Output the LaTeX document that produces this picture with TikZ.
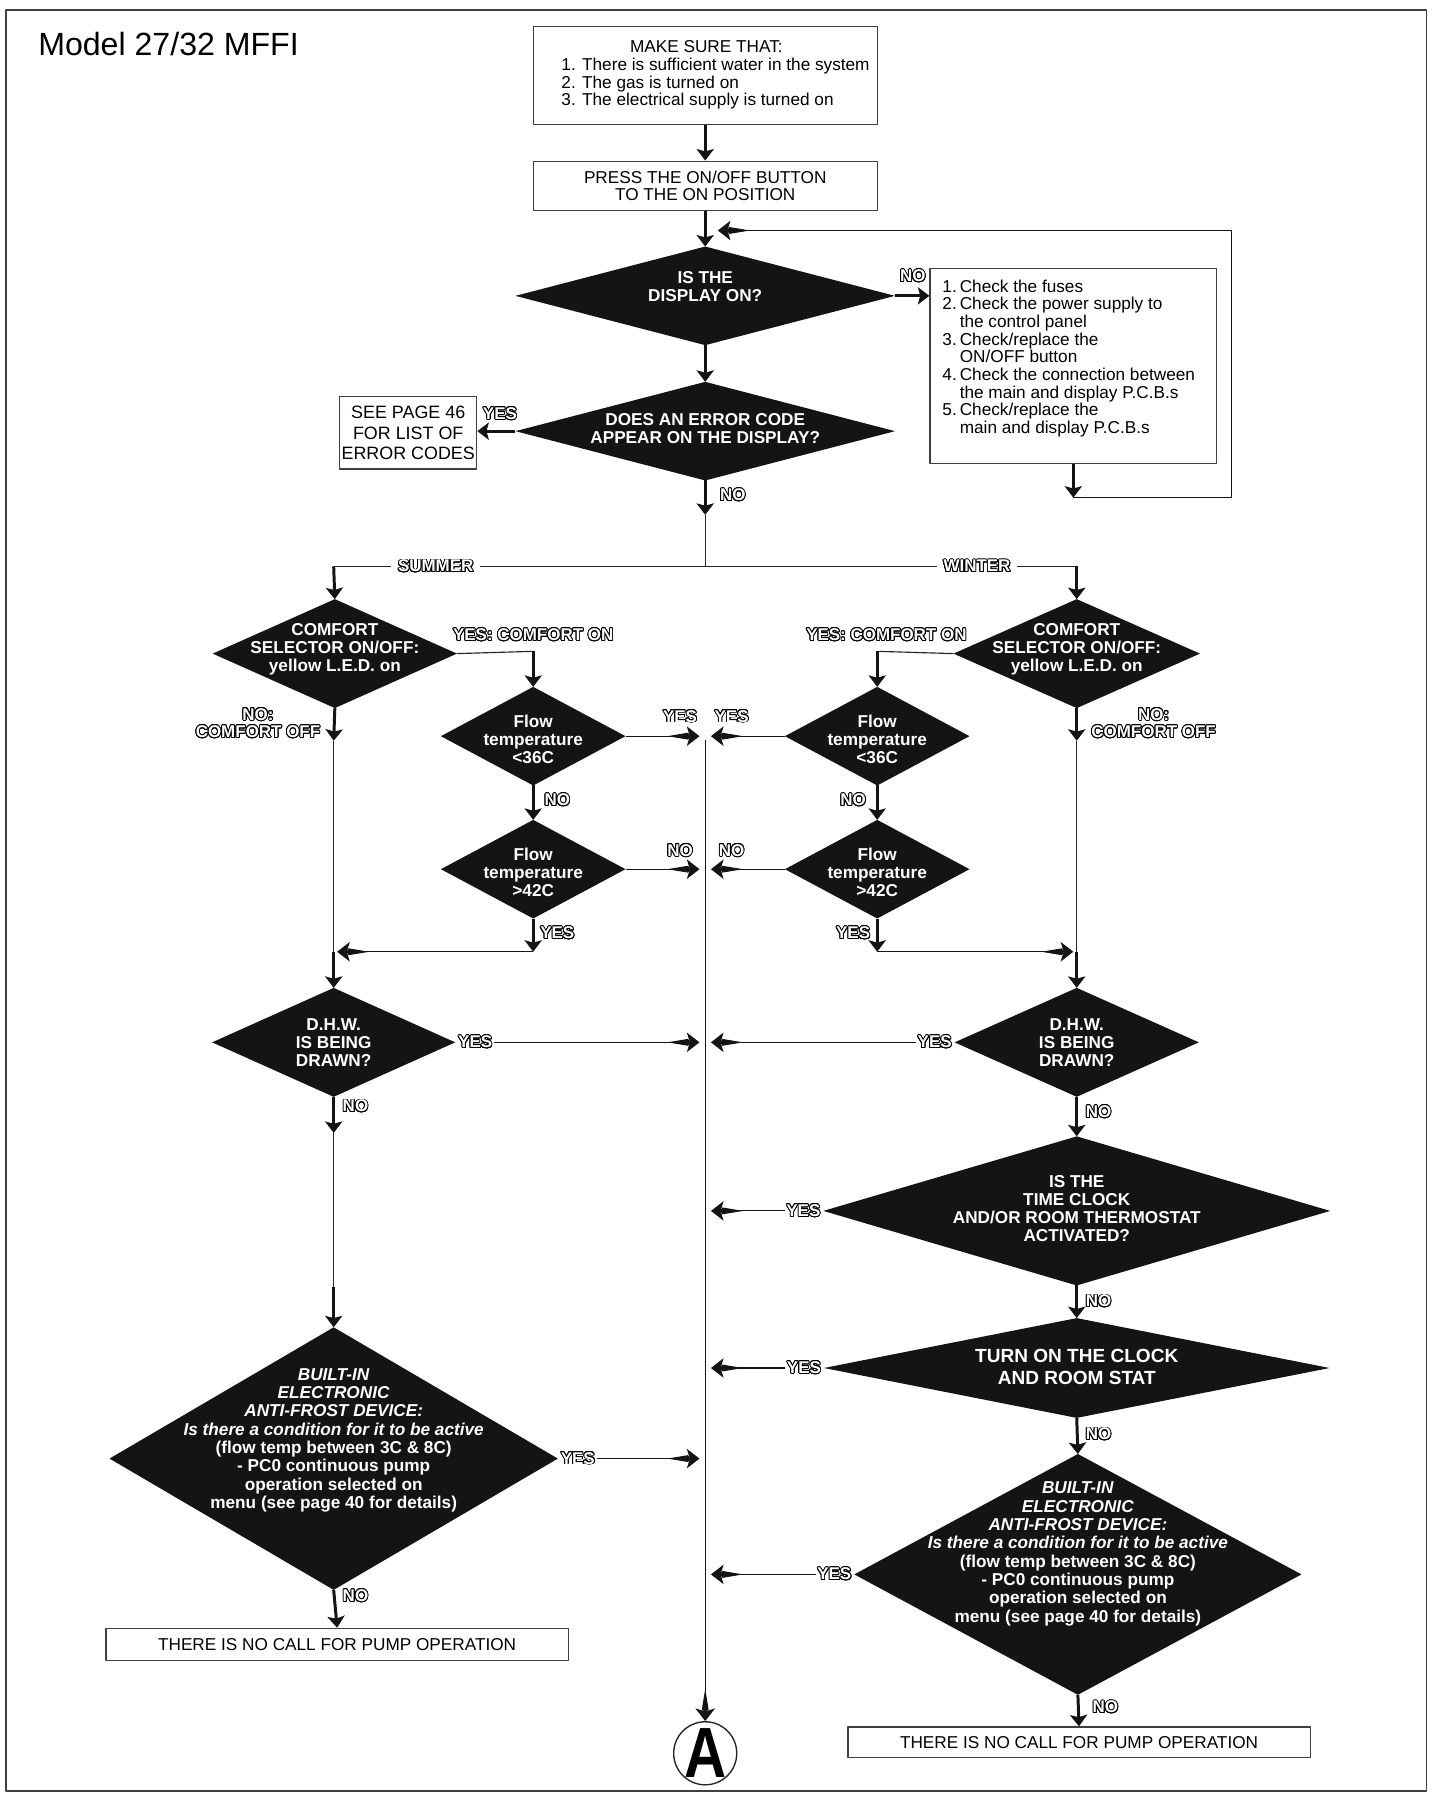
\documentclass[tikz,border=0pt]{standalone}
\usepackage{fontspec}
\setmainfont{Liberation Sans}
\newfontfamily\narrowfont{Liberation Sans}[FakeStretch=0.82]
\usepackage[copies]{contour}
\contourlength{0.38pt}
\contournumber{20}
\usetikzlibrary{arrows.meta,shapes.geometric,positioning}
\newcommand{\olbl}[1]{\contour{black}{#1}}
\tikzset{
  every picture/.style={line join=round},
  frame/.style={draw=black!75, line width=0.8pt},
  box/.style={rectangle, draw=black!75, line width=0.5pt, inner sep=2pt, align=center,
    font=\fontsize{7.5}{7.65}\selectfont},
  chktxt/.style={inner sep=0pt, font=\fontsize{7.5}{7.55}\selectfont},
  dia/.style 2 args={diamond, fill=black!92, draw=none, inner sep=0pt, outer sep=0pt,
    minimum width=#1*0.5pt, minimum height=#2*0.5pt},
  dtxt/.style={text=white, inner sep=0pt, align=center, font=\fontsize{7.5}{7.8}\selectfont\bfseries},
  lab/.style={text=white, inner sep=0.6pt, align=center, font=\fontsize{7.4}{7.6}\selectfont\bfseries},
  conn/.style={draw=black!85, line width=0.5pt},
  tarr/.style={draw=black!92, line width=1.3pt, -{Stealth[length=5pt,width=7.5pt,inset=1pt]}},
  larr/.style={draw=black!92, line width=0.5pt,
    -{Kite[length=10pt,width=3pt,inset=9pt,sep=-1.5pt]Stealth[length=5.5pt,width=8.5pt,inset=1.3pt]}},
}
\begin{document}
\begin{tikzpicture}[x=0.5pt, y=-0.5pt]
\useasboundingbox (0,0) rectangle (1249,1568);
\draw[frame] (5,9) rectangle (1244,1562);
\node[anchor=base west, inner sep=0pt, font=\fontsize{14}{16}\selectfont] (title) at (33,48) {Model 27/32 MFFI};

% top of the chart
\node[box, minimum width=150pt, minimum height=42.75pt] (b1) at (615,66)
  {\hspace*{9pt}\begin{tabular}{@{}l@{}}\multicolumn{1}{@{}c@{}}{\hspace*{-8pt}MAKE SURE THAT:}\\
   1. There is sufficient water in the system\\
   2. The gas is turned on\\
   3. The electrical supply is turned on\end{tabular}};
\node[box, minimum width=150pt, minimum height=21.5pt] (b2) at (615,162) {PRESS THE ON/OFF BUTTON\\TO THE ON POSITION};
\node[dia={331}{86}] (d1) at (615,258) {};
\node[dtxt] (d1t) at (615,250) {IS THE\\DISPLAY ON?};
\node[dia={331}{86}] (d2) at (615,376) {};
\node[dtxt] (d2t) at (615,374) {DOES AN ERROR CODE\\APPEAR ON THE DISPLAY?};
\node[box, minimum width=125pt, minimum height=85pt] (chk) at (936,319) {};
\node[chktxt, anchor=north west] (chkt) at ([xshift=5.5pt,yshift=-5pt]chk.north west)
  {\begin{tabular}{@{}l@{\hspace{1.3pt}}l@{}}
   1. & Check the fuses\\
   2. & Check the power supply to\\
      & the control panel\\
   3. & Check/replace the\\
      & ON/OFF button\\
   4. & Check the connection between\\
      & the main and display P.C.B.s\\
   5. & Check/replace the\\
      & main and display P.C.B.s\end{tabular}};
\node[box, minimum width=59.75pt, minimum height=31.5pt, inner sep=0pt, font=\fontsize{7.8}{9}\selectfont] (see) at (356,377.5) {SEE PAGE 46\\FOR LIST OF\\ERROR CODES};

% summer branch
\node[dia={213}{95}] (cL) at (292,570) {};
\node[dtxt] (cLt) at (292,566) {COMFORT\\SELECTOR ON/OFF:\\yellow L.E.D. on};
\node[dia={161}{86}] (fL1) at (465,642) {};
\node[dtxt] (fL1t) at (465,645) {Flow\\temperature\\<36C};
\node[dia={161}{86}] (fL2) at (465,758) {};
\node[dtxt] (fL2t) at (465,761) {Flow\\temperature\\>42C};
\node[dia={212}{95}] (dhwL) at (291,909) {};
\node[dtxt] (dhwLt) at (291,909) {D.H.W.\\IS BEING\\DRAWN?};
\node[dia={391}{229}] (afL) at (291,1272) {};
\node[dtxt, font=\fontsize{7.5}{8}\selectfont\bfseries] (afLt) at (291,1256)
  {\textit{BUILT-IN}\\\textit{ELECTRONIC}\\\textit{ANTI-FROST DEVICE:}\\\textit{Is there a condition for it to be active}\\
   (flow temp between 3C \& 8C)\\- PC0 continuous pump\\operation selected on\\menu (see page 40 for details)};
\node[box, minimum width=201.5pt, minimum height=14pt] (ncL) at (294,1434) {THERE IS NO CALL FOR PUMP OPERATION};

% winter branch
\node[dia={215}{95}] (cR) at (939,570) {};
\node[dtxt] (cRt) at (939,566) {COMFORT\\SELECTOR ON/OFF:\\yellow L.E.D. on};
\node[dia={161}{86}] (fR1) at (765,642) {};
\node[dtxt] (fR1t) at (765,645) {Flow\\temperature\\<36C};
\node[dia={161}{86}] (fR2) at (765,758) {};
\node[dtxt] (fR2t) at (765,761) {Flow\\temperature\\>42C};
\node[dia={213}{95}] (dhwR) at (939,909) {};
\node[dtxt] (dhwRt) at (939,909) {D.H.W.\\IS BEING\\DRAWN?};
\node[dia={442}{130}] (tc) at (939,1056) {};
\node[dtxt] (tct) at (939,1054) {IS THE\\TIME CLOCK\\AND/OR ROOM THERMOSTAT\\ACTIVATED?};
\node[dia={441}{87}] (tn) at (939,1193) {};
\node[dtxt, font=\fontsize{8.3}{9.5}\selectfont\bfseries] (tnt) at (939,1192) {TURN ON THE CLOCK\\AND ROOM STAT};
\node[dia={390}{210}] (afR) at (940,1373) {};
\node[dtxt, font=\fontsize{7.5}{8}\selectfont\bfseries] (afRt) at (940,1355)
  {\textit{BUILT-IN}\\\textit{ELECTRONIC}\\\textit{ANTI-FROST DEVICE:}\\\textit{Is there a condition for it to be active}\\
   (flow temp between 3C \& 8C)\\- PC0 continuous pump\\operation selected on\\menu (see page 40 for details)};
\node[box, minimum width=201.5pt, minimum height=13.5pt] (ncR) at (941,1519.5) {THERE IS NO CALL FOR PUMP OPERATION};

% terminal
\node[circle, draw=black!85, line width=0.6pt, minimum size=27.5pt, inner sep=0pt] (A) at (615,1529) {};
\node[inner sep=0pt, font=\narrowfont\fontsize{31}{31}\selectfont\bfseries] (At) at (A.center) {A};

% junction points
\coordinate (inL) at (610,0);
\coordinate (inR) at (620,0);
\coordinate (fbR) at (1074,434);
\coordinate (fbT) at (1074,201);
\coordinate (fbE) at (626,201);
\coordinate (sp1) at (615,449);
\coordinate (sL) at (291,494);
\coordinate (sR) at (939,494);
\coordinate (cLa) at (465,568);
\coordinate (cRa) at (765,568);
\coordinate (cLn) at (291,646);
\coordinate (cRn) at (939,646);
\coordinate (jL) at (291,830);
\coordinate (jR) at (939,830);
\coordinate (fLy) at (465,830);
\coordinate (fRy) at (765,830);
\coordinate (dLn) at (291,988);
\coordinate (dLm) at (291,1122);
\coordinate (ctop) at (615,645);

% labels
\node[lab] (lNo1) at (796,241) {\olbl{NO}};
\node[lab] (lYes1) at (436,361) {\olbl{YES}};
\node[lab] (lNo2) at (639,432) {\olbl{NO}};
\node[lab] (lYcL) at (465,554) {\olbl{YES: COMFORT ON}};
\node[lab] (lYcR) at (773,554) {\olbl{YES: COMFORT ON}};
\node[lab] (lNcL) at (225,631) {\olbl{NO:}\\\olbl{COMFORT OFF}};
\node[lab] (lNcR) at (1006,631) {\olbl{NO:}\\\olbl{COMFORT OFF}};
\node[lab] (lY1L) at (593,625) {\olbl{YES}};
\node[lab] (lY1R) at (638,625) {\olbl{YES}};
\node[lab] (lN1L) at (486,698) {\olbl{NO}};
\node[lab] (lN1R) at (744,698) {\olbl{NO}};
\node[lab] (lN2L) at (593,742) {\olbl{NO}};
\node[lab] (lN2R) at (638,742) {\olbl{NO}};
\node[lab] (lY2L) at (486,814) {\olbl{YES}};
\node[lab] (lY2R) at (744,814) {\olbl{YES}};
\node[lab, right=0.5pt of dhwL.east] (lYdL) {\olbl{YES}};
\node[lab, left=0.5pt of dhwR.west] (lYdR) {\olbl{YES}};
\node[lab] (lNdL) at (310,965) {\olbl{NO}};
\node[lab] (lNdR) at (958,970) {\olbl{NO}};
\node[lab, left=0.5pt of tc.west] (lYtc) {\olbl{YES}};
\node[lab] (lNtc) at (958,1135) {\olbl{NO}};
\node[lab, left=0.5pt of tn.west] (lYtn) {\olbl{YES}};
\node[lab] (lNtn) at (958,1251) {\olbl{NO}};
\node[lab, left=0.5pt of afR.west] (lYaR) {\olbl{YES}};
\node[lab] (lNaR) at (964,1489) {\olbl{NO}};
\node[lab, right=0.5pt of afL.east] (lYaL) {\olbl{YES}};
\node[lab] (lNaL) at (310,1392) {\olbl{NO}};

% top connectors
\draw[tarr] (b1) -- (b2);
\draw[tarr] (b2) -- (d1);
\draw[tarr] (d1.east) -- (d1.east -| chk.west);
\draw[tarr] (chk.south) -- (chk.south |- fbR);
\draw[larr] (chk.south |- fbR) -- (fbR) -- (fbT) -- (fbE);
\draw[tarr] (d1) -- (d2);
\draw[tarr] (d2.west) -- (d2.west -| see.east);
\draw[tarr] (d2.south) -- (sp1);
\draw[conn] (sp1) -- (sp1 |- sL);
\draw[conn] (sL) -- (sR);
\node[lab, fill=white, inner xsep=3pt] (lSum) at (380,494) {\olbl{SUMMER}};
\node[lab, fill=white, inner xsep=3pt] (lWin) at (852,494) {\olbl{WINTER}};
\draw[tarr] (sL) -- (cL.north);
\draw[tarr] (sR) -- (cR.north);

% summer connectors
\draw[conn] (cL.east) -- (cLa);
\draw[tarr] (cLa) -- (fL1.north);
\draw[larr] (fL1.east) -- (fL1.east -| inL);
\draw[tarr] (fL1) -- (fL2);
\draw[larr] (fL2.east) -- (fL2.east -| inL);
\draw[tarr] (fL2.south) -- (fLy);
\draw[larr, shorten >=1.5pt] (fLy) -- (jL);
\draw[tarr] (cL.south) -- (cLn);
\draw[conn] (cLn) -- (jL);
\draw[tarr] (jL) -- (dhwL.north);
\draw[larr] (lYdL.east) -- (lYdL.east -| inL);
\draw[tarr] (dhwL.south) -- (dLn);
\draw[conn] (dLn) -- (dLm);
\draw[tarr] (dLm) -- (afL.north);
\draw[larr] (lYaL.east) -- (lYaL.east -| inL);
\draw[tarr] (afL.south) -- (ncL.north);

% winter connectors
\draw[conn] (cR.west) -- (cRa);
\draw[tarr] (cRa) -- (fR1.north);
\draw[larr] (fR1.west) -- (fR1.west -| inR);
\draw[tarr] (fR1) -- (fR2);
\draw[larr] (fR2.west) -- (fR2.west -| inR);
\draw[tarr] (fR2.south) -- (fRy);
\draw[larr, shorten >=1.5pt] (fRy) -- (jR);
\draw[tarr] (cR.south) -- (cRn);
\draw[conn] (cRn) -- (jR);
\draw[tarr] (jR) -- (dhwR.north);
\draw[larr] (lYdR.west) -- (lYdR.west -| inR);
\draw[tarr] (dhwR.south) -- (tc.north);
\draw[larr] (lYtc.west) -- (lYtc.west -| inR);
\draw[tarr] (tc.south) -- (tn.north);
\draw[larr] (lYtn.west) -- (lYtn.west -| inR);
\draw[tarr] (tn.south) -- (afR.north);
\draw[larr] (lYaR.west) -- (lYaR.west -| inR);
\draw[tarr] (afR.south) -- (ncR.north);

% spine to A
\draw[larr] (ctop) -- (A.north);
\end{tikzpicture}
\end{document}
